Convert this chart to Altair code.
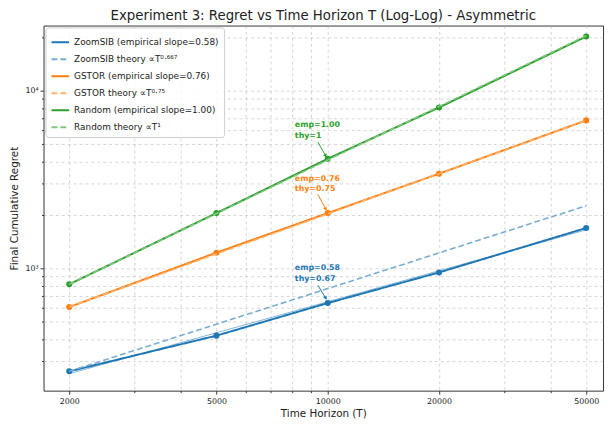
import altair as alt
import pandas as pd

# ---- data ----
T = [2000, 5000, 10000, 20000, 50000]
zoomsib_emp = [264, 419, 639, 950, 1690]
gstor_emp = [607, 1227, 2049, 3415, 6810]
random_emp = [815, 2049, 4140, 8050, 20200]
zoomsib_thy = [264, 486, 771, 1224, 2255]
gstor_thy = [607, 1207, 2030, 3414, 6790]
random_thy = [815, 2038, 4075, 8150, 20375]
zoomsib_fit_T = [2000, 50000]
zoomsib_fit = [256, 1650]

labels = [
    "ZoomSIB (empirical slope=0.58)",
    "ZoomSIB theory  \u221dT\u2070\u00b7\u2076\u2076\u2077",
    "GSTOR (empirical slope=0.76)",
    "GSTOR theory  \u221dT\u2070\u00b7\u2077\u2075",
    "Random (empirical slope=1.00)",
    "Random theory  \u221dT\u00b9",
]
colors = ["#1f77b4", "#79add2", "#ff7f0e", "#ffb26e", "#2ca02c", "#80c680"]
dashes = [[1, 0], [6, 3], [1, 0], [6, 3], [1, 0], [6, 3]]

# annotations (text anchor, arrow start, arrow end) in data coordinates
ann_text = ["emp=1.00\nthy=1", "emp=0.76\nthy=0.75", "emp=0.58\nthy=0.67"]
ann_color = ["#2ca02c", "#ff7f0e", "#1f77b4"]
ann_tx = [8150, 8150, 8150]
ann_ty = [6390, 3203, 1000]
arr_x1 = [9406, 9406, 9406]
arr_y1 = [5140, 2610, 804]
arr_x2 = [9878, 9878, 9878]
arr_y2 = [4300, 2154, 681]

x_ticks = [2000, 3000, 4000, 5000, 6000, 7000, 8000, 9000, 10000, 20000, 30000, 40000, 50000]
y_ticks = [300, 400, 500, 600, 700, 800, 900, 1000, 2000, 3000, 4000, 5000,
           6000, 7000, 8000, 9000, 10000, 20000]

# ---- tables ----
rows = []
series = [zoomsib_emp, zoomsib_thy, gstor_emp, gstor_thy, random_emp, random_thy]
for lab, vals in zip(labels, series):
    for t, v in zip(T, vals):
        rows.append({"T": t, "regret": v, "series": lab,
                     "kind": "theory" if "theory" in lab else "emp"})
df = pd.DataFrame(rows)
fit_df = pd.DataFrame({"T": zoomsib_fit_T, "regret": zoomsib_fit})
ann_df = pd.DataFrame({"T": ann_tx, "regret": ann_ty, "text": ann_text, "c": ann_color,
                       "x1": arr_x1, "y1": arr_y1, "x2": arr_x2, "y2": arr_y2})

FONT = "DejaVu Sans"
grid_kw = dict(grid=True, gridDash=[3, 3], gridColor="#b0b0b0", gridOpacity=0.55,
               domain=False, tickColor="#333", labelFont=FONT, titleFont=FONT,
               labelFontSize=8, titleFontSize=10.5, titleFontWeight="normal",
               labelColor="#222", titleColor="#222")

x_scale = alt.Scale(type="log", domain=[1704, 55530], nice=False)
y_scale = alt.Scale(type="log", domain=[205.5, 23270], nice=False)

x_enc = alt.X("T:Q", scale=x_scale, axis=alt.Axis(
    values=x_ticks, format="d", title="Time Horizon (T)",
    labelExpr="indexof([2000,5000,10000,20000,50000], datum.value) >= 0 ? datum.label : ''",
    tickSize={"condition": {"test": "indexof([2000,5000,10000,20000,50000], datum.value) >= 0", "value": 3.5}, "value": 2},
    labelPadding=4, titlePadding=3, **grid_kw))
y_enc = alt.Y("regret:Q", scale=y_scale, axis=alt.Axis(
    values=y_ticks, title="Final Cumulative Regret",
    labelExpr="datum.value == 1000 ? '10\u00b3' : (datum.value == 10000 ? '10\u2074' : '')",
    tickSize={"condition": {"test": "datum.value == 1000 || datum.value == 10000", "value": 3.5}, "value": 2},
    labelPadding=2, titlePadding=5, **grid_kw))

color_enc = alt.Color("series:N", scale=alt.Scale(domain=labels, range=colors),
                      legend=alt.Legend(title=None, orient="top-left", offset=2,
                                        symbolType="stroke", symbolStrokeWidth=2,
                                        symbolSize=320, labelFont=FONT, labelFontSize=9,
                                        labelColor="#222", rowPadding=2.2, padding=5,
                                        strokeColor="#cccccc", fillColor="rgba(255,255,255,0.85)",
                                        cornerRadius=3, labelLimit=300))
dash_enc = alt.StrokeDash("series:N", scale=alt.Scale(domain=labels, range=dashes), legend=None)

emp = alt.Chart(df).transform_filter("datum.kind == 'emp'").mark_line(
    strokeWidth=2, point=alt.OverlayMarkDef(size=38, filled=True, opacity=1)
).encode(x=x_enc, y=y_enc, color=color_enc, strokeDash=dash_enc, detail="series:N")

thy = alt.Chart(df).transform_filter("datum.kind == 'theory'").mark_line(
    strokeWidth=1.6
).encode(x=x_enc, y=y_enc, color=color_enc, strokeDash=dash_enc, detail="series:N")

fit = alt.Chart(fit_df).mark_line(strokeWidth=1, color="#1f77b4", opacity=0.55).encode(
    x="T:Q", y="regret:Q")

text = alt.layer(*[
    alt.Chart(ann_df.iloc[[i]]).mark_text(
        align="left", baseline="middle", fontWeight="bold", fontSize=8, font=FONT,
        lineBreak="\n", lineHeight=11, color=ann_color[i]
    ).encode(x="T:Q", y="regret:Q", text="text:N")
    for i in range(3)
])

arrows = alt.layer(*[
    alt.Chart(ann_df.iloc[[i]]).mark_rule(strokeWidth=1, color=ann_color[i]).encode(
        x="x1:Q", y="y1:Q", x2="x2:Q", y2="y2:Q")
    for i in range(3)
])

heads = alt.layer(*[
    alt.Chart(ann_df.iloc[[i]]).mark_point(shape="triangle-up", filled=True, size=18,
                                           angle=150, opacity=1, color=ann_color[i]).encode(
        x="x2:Q", y="y2:Q")
    for i in range(3)
])

chart = alt.layer(emp, thy, fit, arrows, heads, text).properties(
    width=567, height=370,
    title=alt.Title("Experiment 3: Regret vs Time Horizon T (Log-Log) - Asymmetric",
                    font=FONT, fontSize=13.5, fontWeight="normal", color="#222",
                    anchor="middle", offset=3),
    autosize=alt.AutoSizeParams(type="none"),
    padding={"left": 36, "top": 15, "right": 2, "bottom": 30},
).configure_view(stroke="#333", strokeWidth=1)

chart.save("out.html", embed_options={"renderer": "svg", "actions": False})
